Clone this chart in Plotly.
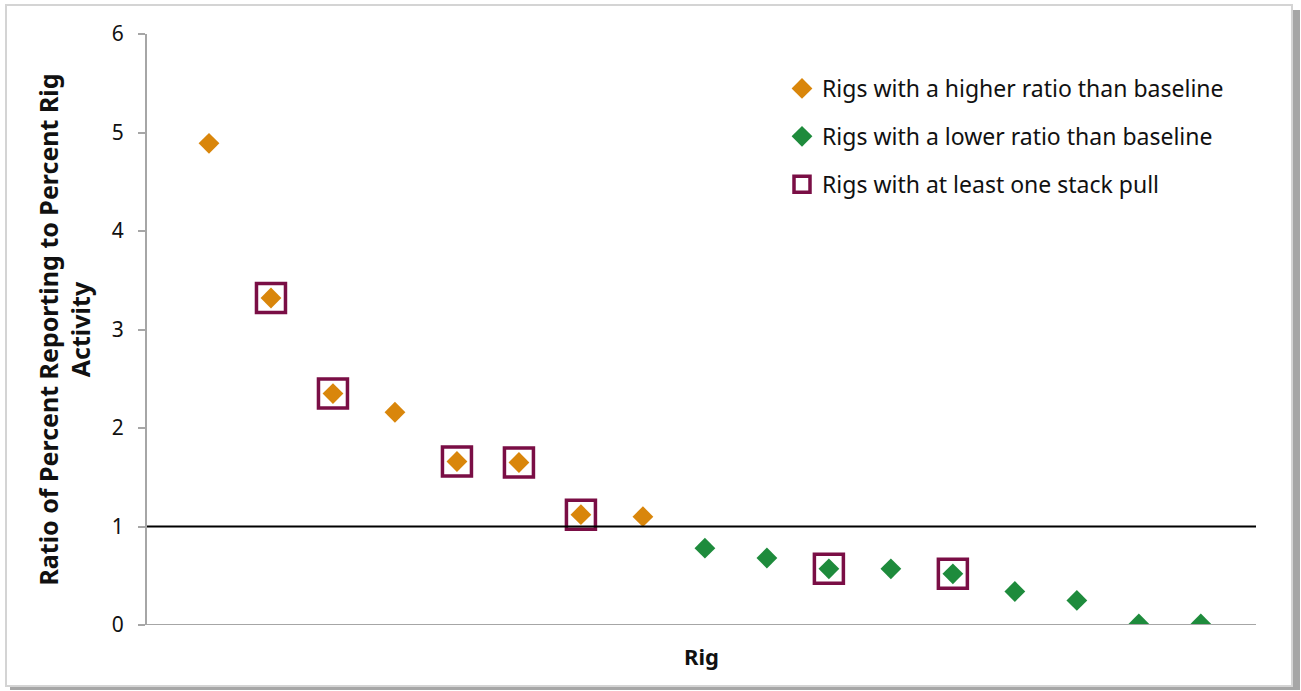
import plotly.graph_objects as go

# Ratio of percent reporting to percent rig activity, rigs sorted high to low
rigs = list(range(1, 18))
ratios = [4.89, 3.32, 2.35, 2.16, 1.66, 1.65, 1.12, 1.10,
          0.78, 0.68, 0.57, 0.57, 0.52, 0.34, 0.25, 0.01, 0.01]
# Rigs that had at least one stack pull
stack_pull_rigs = [2, 3, 5, 6, 7, 11, 13]
baseline = 1.0

ORANGE = "#D9860B"
GREEN = "#1E8B3C"
MAROON = "#7A0E45"
FONT = "Noto Sans"
TEXT = "#111111"

hi_x = [r for r, v in zip(rigs, ratios) if v > baseline]
hi_y = [v for v in ratios if v > baseline]
lo_x = [r for r, v in zip(rigs, ratios) if v <= baseline]
lo_y = [v for v in ratios if v <= baseline]
sp_y = [ratios[r - 1] for r in stack_pull_rigs]

W, H = 1301, 691
L, R, T, B = 147, 45, 34, 66
PW, PH = W - L - R, H - T - B


def px(x):
    return (x - L) / PW


def py(y):
    return (H - B - y) / PH


fig = go.Figure()
fig.add_trace(go.Scatter(
    x=hi_x, y=hi_y, mode="markers", name="Rigs with a higher ratio than baseline",
    legendgroup="a",
    marker=dict(symbol="diamond", size=16, color=ORANGE, line=dict(width=0)),
))
fig.add_trace(go.Scatter(
    x=lo_x, y=lo_y, mode="markers", name="Rigs with a lower ratio than baseline",
    legendgroup="b",
    marker=dict(symbol="diamond", size=16, color=GREEN, line=dict(width=0)),
))
fig.add_trace(go.Scatter(
    x=stack_pull_rigs, y=sp_y, mode="markers", name="Rigs with at least one stack pull",
    legendgroup="c",
    marker=dict(symbol="square-open", size=29, color=MAROON, line=dict(width=3.5, color=MAROON)),
))

shapes = [
    # drop shadow and frame around the chart
    dict(type="rect", xref="paper", yref="paper", layer="below",
         x0=px(10), x1=px(1300), y0=py(690), y1=py(10),
         fillcolor="#a6a6a6", line=dict(width=0)),
    dict(type="rect", xref="paper", yref="paper", layer="below",
         x0=px(6), x1=px(1292), y0=py(686), y1=py(5),
         fillcolor="white", line=dict(color="#d4d4d4", width=2)),
    # baseline ratio
    dict(type="line", xref="paper", yref="y", x0=0, x1=1, y0=baseline, y1=baseline,
         line=dict(color="black", width=2)),
]

fig.update_layout(
    width=W, height=H,
    margin=dict(l=L, r=R, t=T, b=B),
    paper_bgcolor="white", plot_bgcolor="rgba(0,0,0,0)",
    font=dict(family=FONT, color=TEXT),
    shapes=shapes,
    showlegend=True,
    legend=dict(
        x=px(782), y=py(67), xanchor="left", yanchor="top",
        bgcolor="rgba(0,0,0,0)", font=dict(size=23, family=FONT, color=TEXT),
        tracegroupgap=15, itemwidth=30,
    ),
    xaxis=dict(
        range=[0, 17.89], showgrid=False, zeroline=False, showticklabels=False,
        ticks="", showline=False,
        title=dict(text="<b>Rig</b>", font=dict(size=22, family=FONT, color=TEXT), standoff=24),
    ),
    yaxis=dict(
        range=[0, 6], dtick=1, tick0=0, showgrid=False, zeroline=False,
        showline=True, linecolor="#a6a6a6", linewidth=2,
        ticks="outside", ticklen=7, tickcolor="#a6a6a6", tickwidth=1.5,
        tickfont=dict(size=21, family=FONT, color=TEXT),
        ticklabelstandoff=10,
        title=dict(text="<b>Ratio of Percent Reporting to Percent Rig<br>Activity</b>",
                   font=dict(size=25, family=FONT, color=TEXT), standoff=14),
    ),
)

# gray x axis line at zero
fig.add_shape(type="line", xref="paper", yref="y", x0=0, x1=1, y0=0, y1=0,
              line=dict(color="#a6a6a6", width=2))

fig.write_html("out.html")
